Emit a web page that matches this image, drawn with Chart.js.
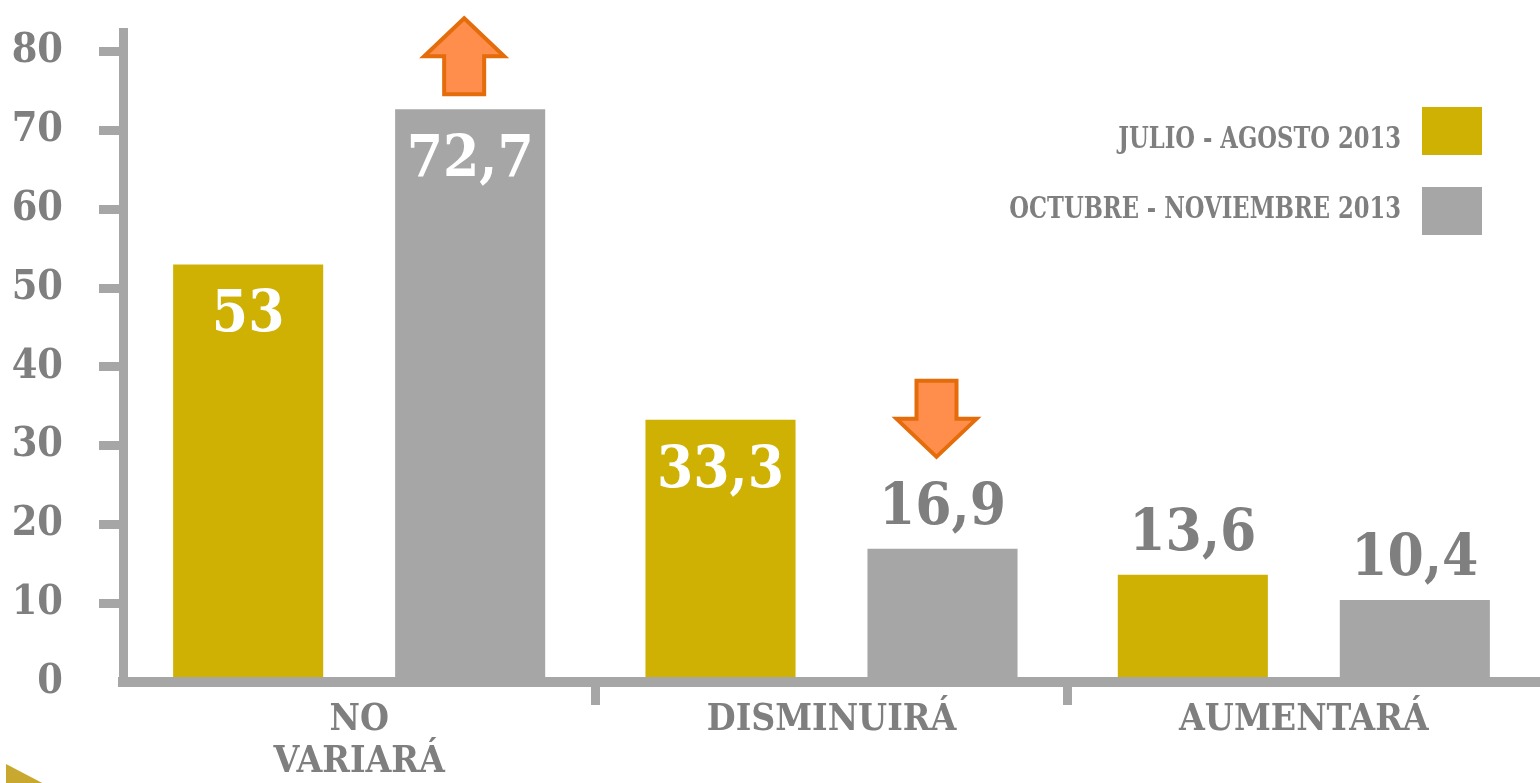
<!DOCTYPE html>
<html>
<head>
<meta charset="utf-8">
<script src="https://cdn.jsdelivr.net/npm/chart.js"></script>
<style>
  html, body { margin: 0; padding: 0; background: #fff; }
  #wrap { width: 1540px; height: 783px; position: relative; }
</style>
</head>
<body>
<div id="wrap"><canvas id="bar-chart"></canvas></div>
<script>
// data
const categories = [['NO', 'VARIARÁ'], 'DISMINUIRÁ', 'AUMENTARÁ'];
const seriesNames = ['JULIO - AGOSTO 2013', 'OCTUBRE - NOVIEMBRE 2013'];
const julioAgosto = [53, 33.3, 13.6];
const octubreNoviembre = [72.7, 16.9, 10.4];
const yTickValues = [0, 10, 20, 30, 40, 50, 60, 70, 80];
// orange arrows: which bar they sit on and where they point
const trendArrows = [
  { dataset: 1, index: 0, dir: 'up' },
  { dataset: 1, index: 1, dir: 'down' }
];

const gold = '#CFB104';
const gray = '#A6A6A6';
const textGray = '#7F7F7F';
const serif = '"DejaVu Serif Condensed", "Liberation Serif", serif';

function fmt(v) {
  return String(v).replace('.', ',');
}

//value labels, white inside the tall bars, gray above the short ones
const valueLabels = {
  id: 'valueLabels',
  afterDatasetsDraw(chart) {
    const ctx = chart.ctx;
    ctx.save();
    ctx.font = 'bold 58px ' + serif;
    ctx.textAlign = 'center';
    ctx.textBaseline = 'middle';
    chart.data.datasets.forEach(function(ds, di) {
      chart.getDatasetMeta(di).data.forEach(function(bar, i) {
        const v = ds.data[i];
        const inside = v > 20;
        ctx.fillStyle = inside ? '#fff' : textGray;
        ctx.fillText(fmt(v), bar.x, inside ? bar.y + 52 : bar.y - 40);
      });
    });
    ctx.restore();
  }
};

//orange up / down arrows
const arrows = {
  id: 'arrows',
  afterDatasetsDraw(chart) {
    const ctx = chart.ctx;
    ctx.save();
    ctx.fillStyle = '#FF8E4C';
    ctx.strokeStyle = '#E46C0A';
    ctx.lineWidth = 4;
    ctx.lineJoin = 'miter';
    trendArrows.forEach(function(a) {
      const bar = chart.getDatasetMeta(a.dataset).data[a.index];
      const cx = bar.x - 6;
      const hw = 40, sw = 20, h = 76, hh = 38;
      let pts;
      if (a.dir === 'up') {
        const bottom = bar.y - 15;
        const top = bottom - h;
        pts = [[cx, top], [cx + hw, top + hh], [cx + sw, top + hh], [cx + sw, bottom],
               [cx - sw, bottom], [cx - sw, top + hh], [cx - hw, top + hh]];
      } else {
        const tip = bar.y - 92;
        const top = tip - h;
        pts = [[cx - sw, top], [cx + sw, top], [cx + sw, tip - hh], [cx + hw, tip - hh],
               [cx, tip], [cx - hw, tip - hh], [cx - sw, tip - hh]];
      }
      ctx.beginPath();
      pts.forEach(function(p, k) { k ? ctx.lineTo(p[0], p[1]) : ctx.moveTo(p[0], p[1]); });
      ctx.closePath();
      ctx.fill();
      ctx.stroke();
    });
    ctx.restore();
  }
};

//legend on the right, text first then the colour box
const sideLegend = {
  id: 'sideLegend',
  afterDraw(chart) {
    const ctx = chart.ctx;
    ctx.save();
    chart.data.datasets.forEach(function(ds, i) {
      ctx.fillStyle = ds.backgroundColor;
      ctx.fillRect(1422, 107 + i * 80, 60, 48);
      // squeezed text, the original font is narrower
      ctx.save();
      ctx.translate(1401, 148 + i * 70);
      ctx.scale(0.84, 1);
      ctx.font = 'bold 30px ' + serif;
      ctx.textAlign = 'right';
      ctx.textBaseline = 'alphabetic';
      ctx.fillStyle = textGray;
      ctx.fillText(ds.label, 0, 0);
      ctx.restore();
    });
    // little gold corner from the slide
    ctx.fillStyle = '#C8A82E';
    ctx.beginPath();
    ctx.moveTo(6, 764);
    ctx.lineTo(48, 786);
    ctx.lineTo(6, 786);
    ctx.closePath();
    ctx.fill();
    ctx.restore();
  }
};

new Chart(document.getElementById('bar-chart'), {
  type: 'bar',
  data: {
    labels: categories,
    datasets: [
      { label: seriesNames[0], data: julioAgosto, backgroundColor: gold },
      { label: seriesNames[1], data: octubreNoviembre, backgroundColor: gray }
    ]
  },
  options: {
    responsive: true,
    maintainAspectRatio: false,
    animation: false,
    devicePixelRatio: 1,
    layout: { padding: { top: 32, right: 0, bottom: 0, left: 0 } },
    categoryPercentage: 0.94,
    barPercentage: 0.676,
    plugins: {
      legend: { display: false },
      tooltip: { enabled: false }
    },
    scales: {
      x: {
        afterFit: function(s) { s.height = 101; },
        border: { display: true, color: gray, width: 10, z: 1 },
        grid: {
          drawOnChartArea: false,
          offset: true,
          tickLength: 23,
          tickWidth: 9,
          tickColor: function(c) { return (c.index === 0 || c.index === undefined) ? 'rgba(0,0,0,0)' : gray; }
        },
        ticks: {
          padding: -6,
          color: textGray,
          maxRotation: 0,
          font: { family: serif, size: 37, weight: 'bold', lineHeight: 1.15 }
        }
      },
      y: {
        min: 0,
        max: 82.5,
        afterFit: function(s) { s.width = 123; s.paddingTop = 0; s.paddingBottom = 0; },
        afterBuildTicks: function(s) { s.ticks = yTickValues.map(function(v) { return { value: v }; }); },
        border: { display: true, color: gray, width: 9, z: 1 },
        grid: {
          drawOnChartArea: false,
          tickLength: 24,
          tickWidth: 9,
          tickColor: function(c) { return (c.tick && c.tick.value === 0) ? 'rgba(0,0,0,0)' : gray; }
        },
        ticks: {
          padding: 36,
          color: textGray,
          font: { family: serif, size: 41, weight: 'bold' }
        }
      }
    }
  },
  plugins: [valueLabels, arrows, sideLegend]
});
</script>
</body>
</html>
